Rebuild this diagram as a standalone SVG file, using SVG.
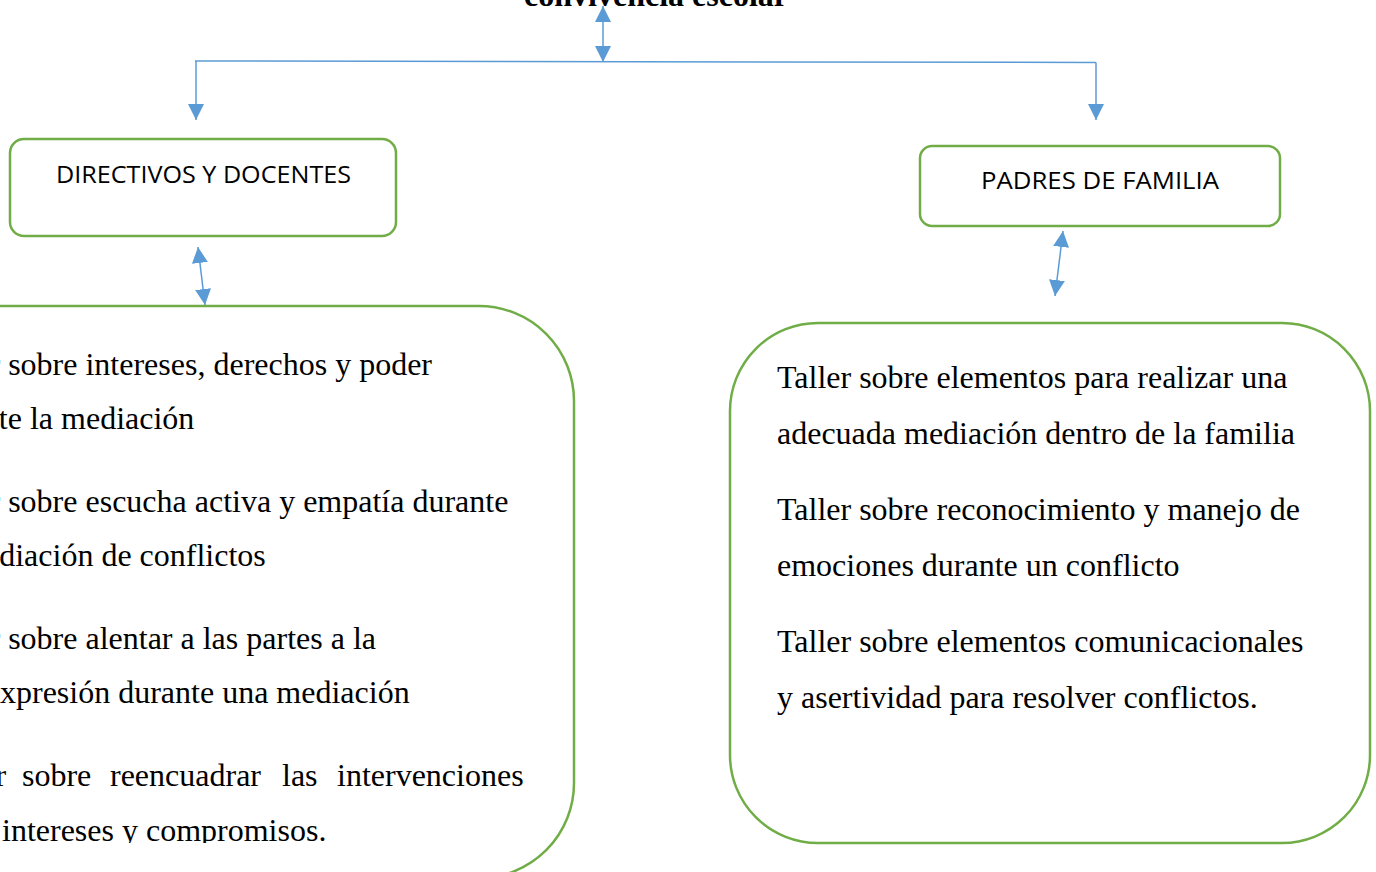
<svg xmlns="http://www.w3.org/2000/svg" width="1376" height="872" viewBox="0 0 1376 872">
  <style>
    .box { fill: #ffffff; stroke: #70AD47; stroke-width: 2.5; }
    .conn { fill: none; stroke: #5B9BD5; stroke-width: 1.5; }
    .body { font-family: "Liberation Serif", "Times New Roman", serif; font-size: 32px; fill: #000000; }
    .label { font-family: "Open Sans", "Noto Sans", "Liberation Sans", sans-serif; font-size: 23px; fill: #000000; }
    .title { font-family: "Liberation Serif", "Times New Roman", serif; font-size: 32px; font-weight: bold; fill: #000000; }
  </style>
  <defs>
    <marker id="arrow" markerUnits="userSpaceOnUse" markerWidth="16" markerHeight="16" refX="15" refY="7.5" orient="auto-start-reverse" viewBox="0 0 15 15">
      <path d="M0,0 L15,7.5 L0,15 z" fill="#5B9BD5"/>
    </marker>
    <clipPath id="leftClip">
      <rect x="-200" y="300" width="800" height="543"/>
    </clipPath>
  </defs>

  <rect width="1376" height="872" fill="#ffffff"/>

  <g id="title">
    <text class="title" x="656" y="6" text-anchor="middle">convivencia escolar</text>
  </g>

  <g id="connectors">
    <line class="conn" x1="603" y1="6" x2="603" y2="62" marker-start="url(#arrow)" marker-end="url(#arrow)"/>
    <line class="conn" x1="195" y1="61" x2="1096" y2="62.5"/>
    <line class="conn" x1="196" y1="61" x2="196" y2="120" marker-end="url(#arrow)"/>
    <line class="conn" x1="1096" y1="62.5" x2="1096" y2="120" marker-end="url(#arrow)"/>
    <line class="conn" x1="198" y1="247" x2="205" y2="305" marker-start="url(#arrow)" marker-end="url(#arrow)"/>
    <line class="conn" x1="1063" y1="231" x2="1055" y2="296" marker-start="url(#arrow)" marker-end="url(#arrow)"/>
  </g>

  <g id="node-directivos">
    <rect class="box" x="10" y="139" width="386" height="97" rx="14"/>
    <text class="label" x="56" y="183" textLength="295" lengthAdjust="spacingAndGlyphs">DIRECTIVOS Y DOCENTES</text>
  </g>

  <g id="node-padres">
    <rect class="box" x="920" y="146" width="360" height="80" rx="12"/>
    <text class="label" x="981" y="189" textLength="238" lengthAdjust="spacingAndGlyphs">PADRES DE FAMILIA</text>
  </g>

  <g id="node-talleres-docentes">
    <rect class="box" x="-120" y="306" width="694" height="572" rx="95"/>
    <g clip-path="url(#leftClip)">
      <text class="body" x="-74" y="375">Taller sobre intereses, derechos y poder</text>
      <text class="body" x="-74" y="429">durante la mediación</text>
      <text class="body" x="-74" y="512">Taller sobre escucha activa y empatía durante</text>
      <text class="body" x="-71" y="566">la mediación de conflictos</text>
      <text class="body" x="-74" y="649">Taller sobre alentar a las partes a la</text>
      <text class="body" x="0" y="703">xpresión durante una mediación</text>
      <text class="body" y="786"><tspan x="-68">Taller</tspan><tspan x="22">sobre</tspan><tspan x="110">reencuadrar</tspan><tspan x="282">las</tspan><tspan x="337">intervenciones</tspan></text>
      <text class="body" x="2" y="841">intereses y compromisos.</text>
    </g>
  </g>

  <g id="node-talleres-padres">
    <rect class="box" x="730" y="323" width="640" height="520" rx="88"/>
    <text class="body" x="777" y="388">Taller sobre elementos para realizar una</text>
    <text class="body" x="777" y="444">adecuada mediación dentro de la familia</text>
    <text class="body" x="777" y="520">Taller sobre reconocimiento y manejo de</text>
    <text class="body" x="777" y="576">emociones durante un conflicto</text>
    <text class="body" x="777" y="652">Taller sobre elementos comunicacionales</text>
    <text class="body" x="777" y="708">y asertividad para resolver conflictos.</text>
  </g>
</svg>
